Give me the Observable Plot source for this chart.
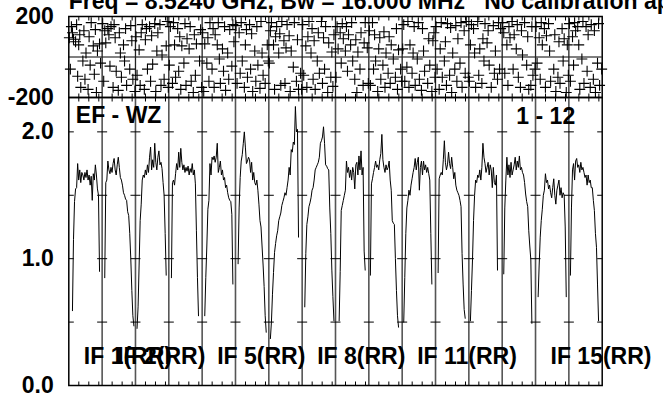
<!DOCTYPE html>
<html><head><meta charset="utf-8">
<script src="https://cdn.jsdelivr.net/npm/d3@7"></script>
<script src="https://cdn.jsdelivr.net/npm/@observablehq/plot@0.6"></script>
<style>
body{margin:0;background:#fff;}
#chart{position:relative;width:663px;height:405px;overflow:hidden;background:#fff;}
#chart svg{position:absolute;left:0;top:0;}
</style></head><body><div id="chart"></div>
<script>
// ---------- data ----------
const titleText = "Freq = 8.5240 GHz, Bw = 16.000 MHz   No calibration applied";
const baselineText = "EF - WZ";
const timeText = "1 - 12";
const ifCount = 16;
const channels = 32;
const labelledIFs = [1, 2, 5, 8, 11, 15];
const ampTicks = [0, 1, 2];
const phaseTicks = [-200, 200];
const crossLevels = [0.5, 1.0, 1.5, 2.0];
const minorTickChannels = [9.6, 19.2, 28.8];

const amp01 = [null,null,null,0.59,1.15,1.45,1.55,1.56,1.75,1.62,1.70,1.60,1.68,1.66,1.62,1.68,1.64,1.70,1.62,1.66,1.58,1.65,1.46,1.67,1.62,1.74,1.66,1.55,1.50,0.90,null,null];
const amp02 = [null,null,0.85,1.60,1.62,1.77,1.70,1.67,1.72,1.68,1.75,1.79,1.70,1.66,1.74,1.80,1.72,1.64,1.62,1.58,1.52,1.50,1.47,1.46,1.37,1.34,1.20,1.00,0.75,0.55,0.47,null];
const amp03 = [null,0.45,0.62,0.95,1.30,1.43,1.62,1.66,1.64,1.70,1.66,1.74,1.68,1.80,1.88,1.70,1.78,1.72,1.91,1.76,1.70,1.80,1.85,1.74,1.76,1.71,1.60,1.50,1.20,0.87,null,null];
const amp04 = [null,null,0.85,1.60,1.62,1.58,1.67,1.75,1.70,1.84,1.72,1.87,1.76,1.70,1.74,1.68,1.72,1.69,1.73,1.66,1.71,1.68,1.75,1.66,1.70,1.59,1.22,0.85,0.55,null,null,null];
const amp05 = [null,null,0.55,0.85,1.10,1.39,1.46,1.75,1.66,1.80,1.78,1.81,1.76,1.80,1.91,1.68,1.72,1.77,1.66,1.70,1.62,1.64,1.56,1.58,1.52,1.48,1.46,1.45,1.35,0.80,null,null];
const amp06 = [null,null,0.96,1.40,1.64,1.77,1.82,1.91,2.00,1.88,1.75,1.77,1.80,1.78,1.68,1.76,1.62,1.68,1.60,1.58,1.62,1.54,1.43,1.30,1.25,1.10,0.95,0.78,0.55,0.42,null,null];
const amp07 = [null,0.37,0.50,0.72,0.89,1.05,1.12,1.18,1.22,1.30,1.33,1.36,1.42,1.45,1.48,1.52,1.50,1.56,1.62,1.72,1.66,1.86,1.84,1.92,1.90,2.20,2.00,2.02,1.17,null,null,null];
const amp08 = [null,null,0.62,1.04,1.27,1.33,1.41,1.44,1.48,1.54,1.56,1.62,1.70,1.72,1.74,1.76,1.80,1.91,1.93,1.96,2.04,1.91,1.74,1.73,1.71,1.70,1.40,1.20,0.91,0.70,0.51,null];
const amp09 = [null,null,null,0.51,0.90,1.38,1.42,1.46,1.50,1.54,1.77,1.68,1.72,1.64,1.70,1.62,1.72,1.68,1.55,1.74,1.76,1.66,1.81,1.70,1.85,1.66,1.72,1.06,0.91,null,null,null];
const amp10 = [null,0.87,1.59,1.63,1.68,1.72,1.77,1.72,1.74,1.70,1.78,1.83,1.98,1.78,1.72,1.68,1.74,1.70,1.72,1.77,1.62,1.54,1.30,1.28,1.27,1.00,0.75,0.55,0.46,null,null,null];
const amp11 = [null,0.50,0.85,1.20,1.40,1.46,1.54,1.50,1.58,1.63,1.68,1.72,1.79,1.70,1.76,1.80,1.54,1.72,1.77,1.66,1.77,1.70,1.74,1.68,1.72,1.67,1.62,1.20,0.80,null,null,null];
const amp12 = [null,null,0.89,1.63,1.66,1.68,1.66,1.78,1.93,1.76,1.70,1.74,1.84,1.75,1.71,1.80,1.72,1.63,1.68,1.58,1.54,1.52,1.50,1.46,1.41,1.04,0.80,0.60,0.53,null,null,null];
const amp13 = [null,0.51,0.75,0.99,1.30,1.50,1.62,1.60,1.66,1.64,1.70,1.62,1.72,1.91,1.80,1.75,1.68,1.72,1.76,1.66,1.74,1.70,1.56,1.72,1.60,1.58,1.66,0.91,null,null,null,null];
const amp14 = [null,0.88,1.40,1.62,1.80,1.66,1.74,1.64,1.76,1.66,1.70,1.74,1.80,1.70,1.77,1.72,1.81,1.70,1.72,1.68,1.66,1.60,1.51,1.45,1.41,1.22,1.10,0.99,0.49,null,null,null];
const amp15 = [null,null,0.70,0.95,1.17,1.30,1.39,1.50,1.54,1.67,1.60,1.62,1.55,1.58,1.52,1.48,1.56,1.63,1.50,1.43,1.54,1.58,1.62,1.50,1.56,1.48,1.52,1.50,1.25,0.70,null,null];
const amp16 = [null,0.87,1.40,1.70,1.75,1.62,1.77,1.79,1.72,1.74,1.68,1.76,1.70,1.72,1.68,1.64,1.66,1.58,1.66,1.60,1.62,1.56,1.56,1.46,1.38,1.20,1.09,0.80,0.51,null,null,null];
const ampByIF = [amp01,amp02,amp03,amp04,amp05,amp06,amp07,amp08,amp09,amp10,amp11,amp12,amp13,amp14,amp15,amp16];

// phase (degrees) per channel; null = no point
const ph01 = [95,-60,150,120,88,null,75,160,-95,60,110,-150,null,-20,130,-110,20,null,-160,100,-40,170,null,55,-85,135,-175,30,null,65,-30,null];
const ph02 = [165,-120,130,70,null,140,110,-45,150,null,-150,160,95,-70,null,-165,120,20,-100,null,60,-20,140,-140,null,null,-60,155,80,-110,null,-170];
const ph03 = [100,-90,null,35,-140,120,160,null,-160,85,140,-60,null,150,-120,105,-35,null,165,-170,30,120,null,160,-140,10,null,-110,null,55,175,-150];
const ph04 = [-40,150,null,-130,170,60,-100,null,140,-70,100,-160,55,null,-30,165,-140,90,null,40,150,-120,null,-175,110,-90,65,null,null,-20,135,-150];
const ph05 = [120,-170,65,null,-30,95,-120,170,null,-60,140,-150,110,null,60,170,-10,-130,null,40,-70,150,-165,null,20,-110,135,null,-45,160,75,null];
const ph06 = [155,-130,null,120,-80,170,-20,null,-150,60,135,-100,null,160,-60,115,-170,null,30,-120,150,-40,null,-155,175,20,-90,null,-130,null,60,-20];
const ph07 = [-30,130,170,null,60,-160,100,150,null,20,115,-140,175,null,80,-130,45,160,null,105,-170,30,null,-50,170,null,-120,85,-160,null,-80,-160];
const ph08 = [160,-90,null,55,-150,100,175,null,20,140,-110,80,-160,null,-20,120,-80,null,175,-130,95,-60,150,null,-175,70,null,-100,25,-145,110,null];
const ph09 = [-100,150,40,null,120,-30,165,90,null,30,150,-70,110,null,60,170,-20,null,-110,85,-175,25,null,-60,120,null,-140,70,170,null,45,-130];
const ph10 = [130,-140,null,170,-60,110,-20,null,-170,40,95,-110,null,-40,125,-150,20,null,-80,100,-130,60,null,-10,null,-100,140,-160,35,null,-60,-120];
const ph11 = [40,160,-120,null,-50,175,-150,60,null,-80,20,150,-140,null,-10,170,-110,null,-165,140,30,-70,null,null,-130,90,-40,null,-170,80,120,-100];
const ph12 = [150,-60,null,-160,40,170,-100,null,-20,75,-140,165,null,-90,145,-175,20,null,-60,155,-120,90,null,-30,170,-150,null,130,-80,175,null,-100];
const ph13 = [-120,60,160,null,140,20,-150,null,175,-90,40,null,-130,90,-20,165,null,70,130,-40,null,-150,null,155,-80,30,null,-110,170,-60,140,null];
const ph14 = [170,120,-80,null,60,-140,150,95,null,175,-60,110,null,40,160,-100,null,-150,130,10,null,170,null,-40,100,-160,null,-140,150,-90,null,-60];
const ph15 = [150,-30,null,95,-110,170,60,null,140,-150,105,null,165,30,-120,null,null,-60,110,-170,null,-100,75,-130,null,140,-20,90,null,-175,60,-90];
const ph16 = [165,-120,null,100,-40,170,130,null,150,60,-160,null,-10,175,-130,null,150,-70,110,null,-150,160,null,-110,130,-175,null,-30,165,-140,null,-60];
const phaseByIF = [ph01,ph02,ph03,ph04,ph05,ph06,ph07,ph08,ph09,ph10,ph11,ph12,ph13,ph14,ph15,ph16];

// ---------- derived tables ----------
const rows = [];
ampByIF.forEach((arr, i) => arr.forEach((v, c) => rows.push({
  ifn: i + 1, x: i * channels + c + 0.5,
  amp: v == null ? NaN : v, phase: phaseByIF[i][c] == null ? NaN : phaseByIF[i][c]
})));
const boundaries = d3.range(0, ifCount + 1).map(i => i * channels);
const inner = boundaries.slice(1, -1);
const xMax = ifCount * channels;
const minorXs = d3.range(ifCount).flatMap(i => minorTickChannels.map(m => i * channels + m));
const halfCross = 4.8;
const crosses = boundaries.flatMap(b => crossLevels.map(l => ({x1: Math.max(0, b - halfCross), x2: Math.min(xMax, b + halfCross), y: l})));
const labels = labelledIFs.map(k => ({x: (k - 1) * channels + 14.4, text: `IF ${k}(RR)`}));

// ---------- layout / style ----------
const W = 663, H = 405;
const FS = 23;
const font = "'Liberation Sans', Arial, Helvetica, sans-serif";
const svgStyle = {background: "transparent", overflow: "visible", fontFamily: font, fontSize: FS + "px", fontWeight: "bold", color: "black"};
const tickDown = {draw(ctx) { ctx.moveTo(0, 0); ctx.lineTo(0, 4); }};
const tickUp = {draw(ctx) { ctx.moveTo(0, 0); ctx.lineTo(0, -4); }};
const ampTop = 2.271;

const phasePlot = Plot.plot({
  width: W, height: H, marginLeft: 68.3, marginRight: 61.3, marginTop: 16, marginBottom: 308,
  style: svgStyle,
  x: {domain: [0, xMax], axis: null},
  y: {domain: [-200, 200], ticks: phaseTicks, tickSize: 0, tickPadding: 15, label: null, tickFormat: d => String(d)},
  marks: [
    Plot.ruleY([0], {stroke: "black", strokeWidth: 1}),
    Plot.ruleX(inner, {stroke: "#222", strokeWidth: 1.3}),
    Plot.dot(rows, {x: "x", y: "phase", symbol: "plus", r: 3.6, stroke: "black", strokeWidth: 1.1}),
    Plot.dot(minorXs, {x: d => d, frameAnchor: "top", symbol: tickDown, fill: "none", stroke: "black", strokeWidth: 1}),
    Plot.dot(minorXs, {x: d => d, frameAnchor: "bottom", symbol: tickUp, fill: "none", stroke: "black", strokeWidth: 1}),
    Plot.frame({stroke: "black", strokeWidth: 1.5}),
    Plot.text([titleText], {frameAnchor: "top-left", textAnchor: "start", lineAnchor: "bottom", dx: 0, dy: -8, fontSize: FS, fontWeight: "bold", fill: "black"})
  ]
});

const ampPlot = Plot.plot({
  width: W, height: H, marginLeft: 68.3, marginRight: 61.3, marginTop: 97, marginBottom: 20,
  style: svgStyle,
  x: {domain: [0, xMax], axis: null},
  y: {domain: [0, ampTop], ticks: ampTicks, tickSize: 0, tickPadding: 15, label: null, tickFormat: d3.format(".1f")},
  marks: [
    Plot.ruleX(inner, {stroke: "#555", strokeWidth: 1.6}),
    Plot.link(crosses, {x1: "x1", x2: "x2", y1: "y", y2: "y", stroke: "black", strokeWidth: 1}),
    Plot.line(rows, {x: "x", y: "amp", z: "ifn", stroke: "black", strokeWidth: 1}),
    Plot.dot(minorXs, {x: d => d, frameAnchor: "top", symbol: tickDown, fill: "none", stroke: "black", strokeWidth: 1}),
    Plot.dot(minorXs, {x: d => d, frameAnchor: "bottom", symbol: tickUp, fill: "none", stroke: "black", strokeWidth: 1}),
    Plot.frame({stroke: "black", strokeWidth: 1.5}),
    Plot.text([baselineText], {frameAnchor: "top-left", textAnchor: "start", lineAnchor: "top", dx: 7, dy: 9.3, fontSize: FS, fontWeight: "bold", fill: "black"}),
    Plot.text([timeText], {frameAnchor: "top-right", textAnchor: "end", lineAnchor: "top", dx: -27, dy: 10, fontSize: FS, fontWeight: "bold", fill: "black"}),
    Plot.text(labels, {x: "x", text: "text", frameAnchor: "bottom", textAnchor: "start", lineAnchor: "bottom", dy: -22, fontSize: FS, fontWeight: "bold", fill: "black"})
  ]
});

const chart = document.getElementById("chart");
chart.append(phasePlot, ampPlot);
</script></body></html>
